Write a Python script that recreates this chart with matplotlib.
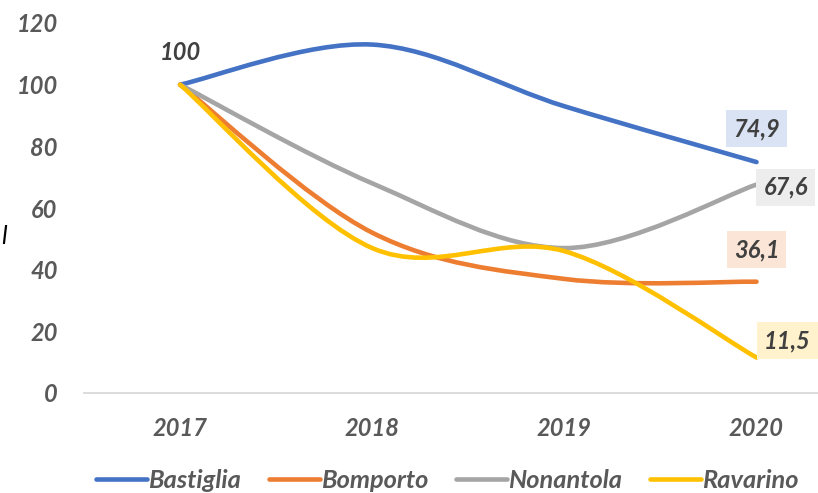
import matplotlib
matplotlib.use("Agg")
import matplotlib.pyplot as plt
from matplotlib.path import Path
from matplotlib.patches import PathPatch
from matplotlib.lines import Line2D

plt.rcParams['font.family'] = ['Lato', 'DejaVu Sans']

years = ["2017", "2018", "2019", "2020"]
names = ["Bastiglia", "Bomporto", "Nonantola", "Ravarino"]
bastiglia = [100, 113, 93, 74.9]
bomporto = [100, 52, 37, 36.1]
nonantola = [100, 68, 47, 67.6]
ravarino = [100, 47, 46, 11.5]
colors = ["#4472C4", "#ED7D31", "#A5A5A5", "#FFC000"]
box_colors = ["#DAE3F3", "#FBE5D6", "#EDEDED", "#FFF2CC"]
# offset (points) of the end label from the last point of each series
end_offsets = [(0, 24), (0, 23), (21, -2), (22, 12)]

series = [bastiglia, bomporto, nonantola, ravarino]


def smooth_path(ys):
    # Catmull-Rom style cubic Bezier through the points, like spreadsheet "smoothed line"
    xs = list(range(len(ys)))
    n = len(ys)
    verts = [(xs[0], ys[0])]
    codes = [Path.MOVETO]
    for i in range(n - 1):
        p0 = max(i - 1, 0)
        p3 = min(i + 2, n - 1)
        c1 = (xs[i] + (xs[i + 1] - xs[p0]) / 6, ys[i] + (ys[i + 1] - ys[p0]) / 6)
        c2 = (xs[i + 1] - (xs[p3] - xs[i]) / 6, ys[i + 1] - (ys[p3] - ys[i]) / 6)
        verts += [c1, c2, (xs[i + 1], ys[i + 1])]
        codes += [Path.CURVE4] * 3
    return Path(verts, codes)


fig = plt.figure(figsize=(8.18, 4.93), dpi=100)
ax = fig.add_axes([84 / 818, 1 - 393 / 493, 1 - 84 / 818, 370 / 493])

for ys, c in zip(series, colors):
    ax.add_patch(PathPatch(smooth_path(ys), fill=False, edgecolor=c, lw=3.3,
                           capstyle='round', joinstyle='round', clip_on=False))

ax.set_xlim(-0.5, 3.32)
ax.set_ylim(0, 120)
ax.set_yticks(range(0, 121, 20))
ax.set_xticks(range(len(years)))
ax.set_xticklabels(years)

for s in ["top", "right", "left"]:
    ax.spines[s].set_visible(False)
ax.spines["bottom"].set_color("#D9D9D9")
ax.spines["bottom"].set_linewidth(1.3)
ax.tick_params(axis='y', length=0, pad=19, labelsize=17, labelcolor="#595959")
ax.tick_params(axis='x', length=0, pad=17, labelsize=17, labelcolor="#595959")
for lab in ax.get_xticklabels() + ax.get_yticklabels():
    lab.set_fontweight('bold')
    lab.set_fontstyle('italic')

# start value label
ax.annotate(f"{bastiglia[0]:g}", (0, bastiglia[0]), xytext=(0, 23),
            textcoords='offset points', ha='center', va='center',
            fontsize=17, fontweight='bold', fontstyle='italic', color="#404040")

# end value labels with tinted boxes
last = len(years) - 1
for ys, bc, off in zip(series, box_colors, end_offsets):
    txt = f"{ys[-1]:.1f}".replace(".", ",")
    ax.annotate(txt, (last, ys[-1]), xytext=off, textcoords='offset points',
                ha='center', va='center', fontsize=17, fontweight='bold',
                fontstyle='italic', color="#404040",
                bbox=dict(boxstyle='square,pad=0.3', fc=bc, ec='none'))

handles = [Line2D([], [], color=c, lw=3.3, solid_capstyle='round') for c in colors]
fig.legend(handles, names, loc='center', bbox_to_anchor=(0.547, 0.026), ncol=4,
           frameon=False, handlelength=2.0, handletextpad=0.05, columnspacing=1.1,
           prop=dict(size=18.3, weight='bold', style='italic'), labelcolor="#595959")

fig.text(0.002, 1 - 237 / 493, "l", fontsize=18, fontstyle='italic',
         color="black", va='center')

fig.savefig("out.png", dpi=100)
